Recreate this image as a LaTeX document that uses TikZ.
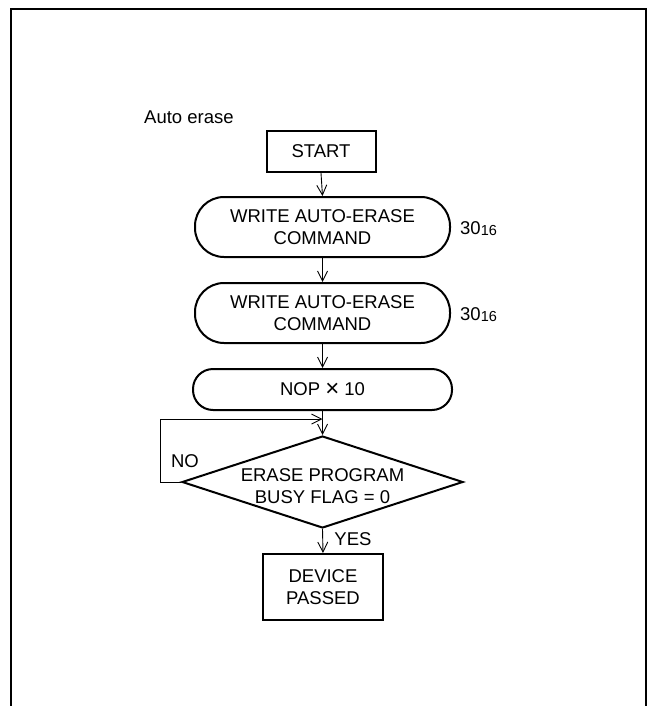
\documentclass[tikz,border=0pt]{standalone}
\usepackage{fontspec}
\setmainfont{Liberation Sans}
\usetikzlibrary{shapes.geometric,arrows.meta}
\begin{document}
\begin{tikzpicture}[x=1pt,y=-1pt,
  every node/.style={font=\fontsize{18.5}{21.7}\selectfont, align=center, inner sep=0pt},
  boxline/.style={draw, line width=2pt},
  sqbox/.style={boxline, rectangle},
  roundbox/.style={boxline, rectangle, rounded corners=#1},
  decision/.style={boxline, diamond, aspect=3.05, minimum width=281pt, minimum height=92pt},
  arr/.style={line width=0.9pt, -{Straight Barb[length=10pt,width=10pt,line width=0.9pt]}},
  plain/.style={line width=0.9pt}
]
\useasboundingbox (0,0) rectangle (648,706);
% frame
\draw[line width=2pt] (11,706) -- (11,9) -- (646,9) -- (646,706);

\node[anchor=west] (title) at (144,117) {Auto erase};
\node[sqbox, minimum width=109pt, minimum height=41pt] (start) at (321,151.5) {START};
\node[roundbox=29pt, minimum width=255pt, minimum height=60pt] (w1) at (322.5,227) {WRITE AUTO-ERASE\\COMMAND};
\node[roundbox=29pt, minimum width=255pt, minimum height=60pt] (w2) at (322.5,313) {WRITE AUTO-ERASE\\COMMAND};
\node[roundbox=20pt, minimum width=259pt, minimum height=41pt] (nop) at (322.5,389.5) {NOP \raisebox{-0.5pt}{\fontsize{24}{24}\selectfont ×} 10};
\node[decision] (dia) at (322.5,482) {};
\node (diatext) at (322.5,486) {ERASE PROGRAM\\BUSY FLAG = 0};
\node[sqbox, minimum width=120pt, minimum height=66pt] (dev) at (323,587) {DEVICE\\PASSED};

\node[anchor=west] (c1) at (460,229) {30\raisebox{-1pt}{\fontsize{14.5}{14.5}\selectfont 16}};
\node[anchor=west] (c2) at (460,315) {30\raisebox{-1pt}{\fontsize{14.5}{14.5}\selectfont 16}};

\node (no) at (185,461) {NO};
\node (yes) at (353,539) {YES};

\coordinate (loopin) at (322.5,419);
\coordinate (loopleft) at (160,482);

\draw[arr] (start.south) -- (w1.north);
\draw[arr] (w1.south) -- (w2.north);
\draw[arr] (w2.south) -- (nop.north);
\draw[arr] (nop.south) -- (dia.north);
\draw[arr] (dia.west) -- (loopleft) |- (loopin);
\draw[arr] (dia.south) -- (dev.north);
\end{tikzpicture}
\end{document}
